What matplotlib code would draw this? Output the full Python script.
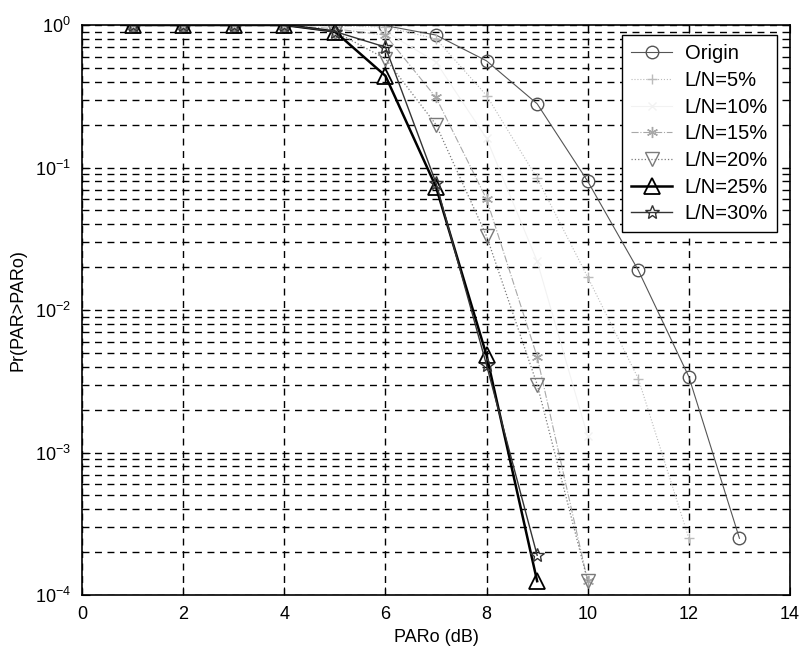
import numpy as np
import matplotlib
matplotlib.use('Agg')
import matplotlib.pyplot as plt
from matplotlib.ticker import LogLocator, NullFormatter

plt.rcParams['font.family'] = ['Liberation Sans', 'DejaVu Sans']
plt.rcParams['mathtext.fontset'] = 'custom'
plt.rcParams['mathtext.rm'] = 'Liberation Sans'

# PARo (dB) values and CCDF
x_origin = [1, 2, 3, 4, 5, 6, 7, 8, 9, 10, 11, 12, 13]
y_origin = [1, 1, 1, 1, 1, 0.99, 0.85, 0.56, 0.28, 0.08, 0.019, 0.0034, 0.00025]

x_ln5 = [1, 2, 3, 4, 5, 6, 7, 8, 9, 10, 11, 12]
y_ln5 = [1, 1, 1, 1, 0.98, 0.97, 0.8, 0.32, 0.084, 0.017, 0.0033, 0.00025]

x_ln10 = [1, 2, 3, 4, 5, 6, 7, 8, 9, 10]
y_ln10 = [1, 1, 1, 1, 0.96, 0.9, 0.55, 0.16, 0.022, 0.0013]

x_ln15 = [1, 2, 3, 4, 5, 6, 7, 8, 9, 10]
y_ln15 = [1, 1, 1, 1, 0.94, 0.85, 0.31, 0.06, 0.0047, 0.000125]

x_ln20 = [1, 2, 3, 4, 5, 6, 7, 8, 9, 10]
y_ln20 = [1, 1, 1, 1, 0.9, 0.58, 0.2, 0.033, 0.003, 0.000125]

x_ln25 = [1, 2, 3, 4, 5, 6, 7, 8, 9]
y_ln25 = [1, 1, 1, 1, 0.9, 0.44, 0.073, 0.0048, 0.000125]

x_ln30 = [1, 2, 3, 4, 5, 6, 7, 8, 9]
y_ln30 = [1, 1, 1, 1, 0.9, 0.7, 0.078, 0.0041, 0.00019]

fig = plt.figure(figsize=(8.03, 6.55), dpi=100)
ax = fig.add_axes([82/803, 1 - 595/655, 708/803, 570/655])

ax.semilogy(x_origin, y_origin, color='#555555', lw=0.8, marker='o', ms=9,
            mfc='none', mec='#555555', label='Origin')
ax.semilogy(x_ln5, y_ln5, color='#bbbbbb', lw=0.8, ls=':', marker='+', ms=7,
            mec='#bbbbbb', label='L/N=5%')
ax.semilogy(x_ln10, y_ln10, color='#f2f2f2', lw=0.8, ls='-', marker='x', ms=6,
            mec='#f2f2f2', label='L/N=10%')
ax.semilogy(x_ln15, y_ln15, color='#a8a8a8', lw=0.8, ls='-.', marker=(6, 2, 0), ms=8,
            mec='#a8a8a8', label='L/N=15%')
ax.semilogy(x_ln20, y_ln20, color='#7a7a7a', lw=0.9, ls=':', marker='v', ms=10,
            mfc='none', mec='#7a7a7a', label='L/N=20%')
ax.semilogy(x_ln25, y_ln25, color='black', lw=1.8, marker='^', ms=11,
            mfc='none', mec='black', mew=1.3, label='L/N=25%')
ax.semilogy(x_ln30, y_ln30, color='#333333', lw=1.0, marker='*', ms=10,
            mfc='none', mec='#333333', label='L/N=30%')

ax.set_xlim(0, 14)
ax.set_ylim(1e-4, 1)
ax.set_xticks(range(0, 15, 2))
ax.yaxis.set_major_locator(LogLocator(base=10, numticks=10))
ax.yaxis.set_minor_locator(LogLocator(base=10, subs=np.arange(2, 10), numticks=20))
ax.yaxis.set_minor_formatter(NullFormatter())

ax.grid(True, which='major', axis='both', color='black', ls=(0, (5, 4)), lw=1.0)
ax.grid(True, which='minor', axis='y', color='black', ls=(0, (5, 4)), lw=1.0)

ax.tick_params(which='both', direction='in', top=True, right=True, labelsize=13, colors='black')
ax.tick_params(which='major', length=6, pad=8)
ax.tick_params(which='minor', length=3)
for s in ax.spines.values():
    s.set_linewidth(1.2)

ax.set_xlabel('PARo (dB)', fontsize=13, labelpad=4)
ax.set_ylabel('Pr(PAR>PARo)', fontsize=13, labelpad=6)

leg = ax.legend(loc='upper right', bbox_to_anchor=(0.982, 0.982), fontsize=14.5,
                frameon=True, fancybox=False, framealpha=1, edgecolor='black',
                handlelength=2.0, handletextpad=0.65, labelspacing=0.38,
                borderpad=0.45, borderaxespad=0)
leg.get_frame().set_linewidth(1.0)

fig.savefig('out.png', dpi=100)
